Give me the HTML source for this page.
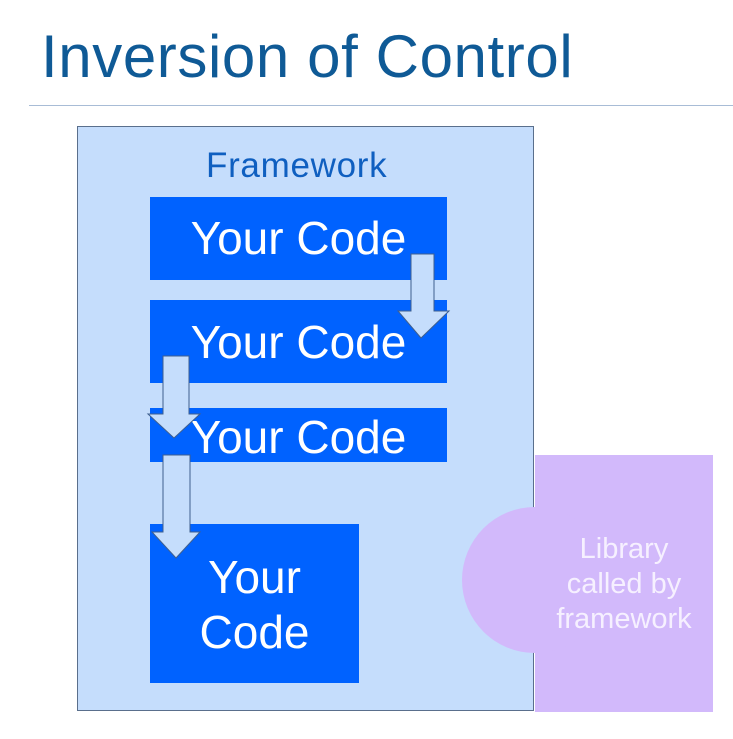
<!DOCTYPE html>
<html><head><style>
body{margin:0;width:733px;height:739px;background:#fff;overflow:hidden;position:relative;font-family:"Liberation Sans",sans-serif}
.t{position:absolute;left:41px;top:27px;font-size:60px;line-height:60px;color:#0f5a96;letter-spacing:0.6px;white-space:nowrap}
.line{position:absolute;left:29px;top:105px;width:704px;height:1px;background:#a8bcd6}
.fw{position:absolute;left:77px;top:126px;width:457px;height:585px;background:#c5ddfc;border:1px solid #5a6f8c;box-sizing:border-box}
.b{position:absolute;background:#0062ff;color:#fff;text-align:center;font-size:46px;white-space:nowrap}
.lbl{position:absolute;color:#0f5fc0;font-size:35px;letter-spacing:0.7px}
</style></head><body>
<div class="t">Inversion of Control</div>
<div class="line"></div>
<div class="fw"></div>
<div class="lbl" style="left:206px;top:146px">Framework</div>
<div class="b" style="left:150px;top:197px;width:297px;height:83px;line-height:83px">Your Code</div>
<div class="b" style="left:150px;top:300px;width:297px;height:83px;line-height:84px">Your Code</div>
<div class="b" style="left:150px;top:408px;width:297px;height:54px;line-height:58px">Your Code</div>
<div class="b" style="left:150px;top:524px;width:209px;height:159px;line-height:55px;padding-top:26px;box-sizing:border-box">Your<br>Code</div>
<svg width="733" height="739" style="position:absolute;left:0;top:0">
<rect x="535" y="455" width="178" height="257" fill="#d2b9fb"/>
<circle cx="535" cy="580" r="73" fill="#d2b9fb"/>
<text font-family="Liberation Sans" font-size="29" fill="#f6f0ff" text-anchor="middle"><tspan x="624" y="558">Library</tspan><tspan x="624" y="593">called by</tspan><tspan x="624" y="628">framework</tspan></text>
<g fill="#c5ddfc" stroke="#3f5f8e" stroke-width="1">
<polygon points="411,254 434,254 434,311 449,311 421,338 398,311 411,311"/>
<polygon points="163,356 189,356 189,414 200,414 174,438 148,414 163,414"/>
<polygon points="163,455 190,455 190,532 200,532 176,558 152,532 163,532"/>
</g>
</svg>
</body></html>
